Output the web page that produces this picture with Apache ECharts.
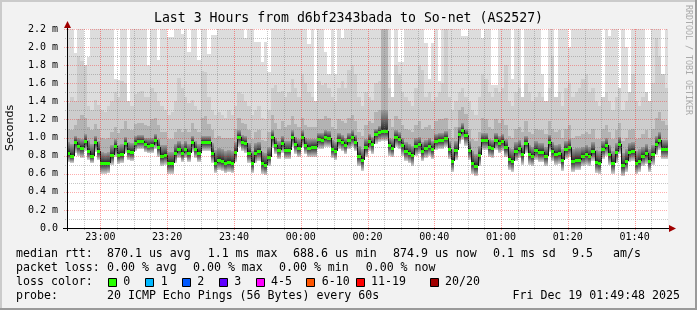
<!DOCTYPE html>
<html>
<head>
<meta charset="utf-8">
<script src="https://cdn.jsdelivr.net/npm/echarts@6/dist/echarts.min.js"></script>
<style>
html,body{margin:0;padding:0;background:#f2f2f2;}
#chart{width:697px;height:310px;}
</style>
</head>
<body>
<div id="chart"></div>
<script>
// ---- x axis: minutes since 22:50, one sample per minute ----
const xTickMinutes = [10, 30, 50, 70, 90, 110, 130, 150, 170];
const xTickLabels  = ['23:00','23:20','23:40','00:00','00:20','00:40','01:00','01:20','01:40'];
const yTickValues  = [0, 0.2, 0.4, 0.6, 0.8, 1.0, 1.2, 1.4, 1.6, 1.8, 2.0, 2.2];
const yTickLabels  = ['0.0','0.2 m','0.4 m','0.6 m','0.8 m','1.0 m','1.2 m','1.4 m','1.6 m','1.8 m','2.0 m','2.2 m'];

// ---- median RTT (ms) per minute ----
const median = [
 0.83,0.80,0.95,0.91,0.88,0.965,0.85,0.80,0.95,0.85,
 0.72,0.715,0.72,0.81,0.91,0.81,0.82,0.94,0.85,0.84,
 0.945,0.965,0.965,0.93,0.91,0.92,0.975,0.89,0.80,0.81,
 0.715,0.715,0.83,0.87,0.83,0.87,0.83,0.95,0.87,0.83,
 0.95,0.95,0.95,0.83,0.72,0.75,0.744,0.718,0.733,0.718,
 0.84,1.01,0.954,0.94,0.829,0.722,0.833,0.851,0.715,0.696,
 0.785,1.01,0.921,0.866,0.94,0.866,0.866,1.01,0.932,0.888,
 1.01,0.921,0.888,0.896,0.896,0.984,0.976,1.01,0.999,0.873,
 0.851,0.976,0.954,0.921,0.976,1.01,0.954,0.796,0.748,0.89,
 0.962,0.932,1.039,1.061,1.072,1.072,0.918,0.888,1.006,0.984,
 0.918,0.851,0.829,0.807,0.91,0.932,0.851,0.884,0.91,0.873,
 0.962,0.976,0.976,0.999,0.873,0.744,0.866,1.043,1.083,1.028,
 0.866,0.722,0.689,0.807,0.976,0.976,0.896,0.884,0.976,0.94,
 0.962,0.896,0.763,0.744,0.851,0.884,0.818,0.94,0.818,0.796,
 0.862,0.84,0.84,0.796,0.954,0.851,0.818,0.829,0.752,0.873,
 0.896,0.744,0.756,0.756,0.796,0.818,0.796,0.851,0.733,0.722,
 0.873,0.918,0.818,0.722,0.84,0.932,0.696,0.744,0.84,0.851,
 0.722,0.744,0.796,0.829,0.744,0.818,0.925,0.976,0.873,0.875
];
// ---- lowest ping (ms) per minute ----
const minPing = [
 0.73,0.72,0.83,0.80,0.77,0.85,0.75,0.72,0.84,0.75,
 0.60,0.60,0.61,0.70,0.79,0.71,0.72,0.83,0.75,0.74,
 0.85,0.87,0.87,0.84,0.83,0.83,0.87,0.78,0.68,0.70,
 0.60,0.60,0.72,0.77,0.73,0.77,0.73,0.84,0.77,0.73,
 0.85,0.85,0.85,0.72,0.61,0.64,0.63,0.61,0.62,0.61,
 0.73,0.89,0.85,0.83,0.72,0.61,0.72,0.74,0.60,0.59,
 0.68,0.88,0.82,0.76,0.83,0.76,0.76,0.89,0.82,0.78,
 0.89,0.82,0.78,0.79,0.79,0.87,0.87,0.90,0.89,0.77,
 0.75,0.87,0.85,0.82,0.87,0.90,0.85,0.68,0.63,0.78,
 0.85,0.82,0.93,0.95,0.96,0.96,0.80,0.78,0.89,0.87,
 0.80,0.74,0.72,0.69,0.80,0.82,0.74,0.77,0.80,0.76,
 0.86,0.87,0.87,0.89,0.76,0.62,0.75,0.93,0.97,0.91,
 0.75,0.60,0.57,0.69,0.86,0.86,0.78,0.77,0.86,0.83,
 0.85,0.78,0.64,0.62,0.74,0.77,0.70,0.83,0.70,0.68,
 0.75,0.73,0.73,0.68,0.84,0.74,0.70,0.71,0.63,0.76,
 0.78,0.62,0.64,0.64,0.68,0.70,0.68,0.74,0.61,0.60,
 0.76,0.80,0.70,0.60,0.72,0.82,0.58,0.62,0.73,0.74,
 0.60,0.62,0.68,0.71,0.62,0.70,0.81,0.86,0.76,0.76
];
// ---- top of the dark smoke band (ms) ----
const darkTop = [
 0.95,0.93,1.02,1.00,0.98,1.04,0.97,0.93,1.02,0.96,
 0.84,0.83,0.84,0.92,0.98,0.92,0.93,1.01,0.95,0.94,
 1.02,1.03,1.03,1.00,0.99,1.00,1.04,0.98,0.92,0.92,
 0.84,0.84,0.93,0.96,0.93,0.96,0.93,1.02,0.96,0.93,
 1.02,1.02,1.02,0.94,0.86,0.88,0.87,0.85,0.86,0.85,
 0.95,1.08,1.03,1.02,0.94,0.85,0.94,0.95,0.84,0.83,
 0.90,1.08,1.00,0.96,1.02,0.96,0.96,1.08,1.01,0.98,
 1.08,1.00,0.98,0.98,0.98,1.05,1.05,1.08,1.07,0.97,
 0.95,1.05,1.03,1.00,1.05,1.08,1.03,0.91,0.87,0.98,
 1.04,1.01,1.10,1.13,1.30,1.30,1.00,0.98,1.08,1.06,
 1.00,0.95,0.93,0.91,0.99,1.01,0.95,0.97,0.99,0.96,
 1.04,1.05,1.05,1.07,0.96,0.87,0.96,1.12,1.16,1.10,
 0.96,0.85,0.82,0.91,1.05,1.05,0.98,0.97,1.05,1.02,
 1.04,0.98,0.88,0.87,0.95,0.97,0.92,1.02,0.92,0.90,
 0.96,0.94,0.94,0.90,1.03,0.95,0.92,0.93,0.87,0.96,
 0.98,0.87,0.88,0.88,0.90,0.92,0.90,0.95,0.86,0.85,
 0.96,1.00,0.92,0.85,0.94,1.01,0.83,0.87,0.94,0.95,
 0.85,0.87,0.90,0.93,0.87,0.92,1.02,1.06,0.97,0.97
];
// ---- top of the mid-gray smoke band (ms) ----
const midTop = [
 1.10,1.08,1.14,1.20,1.25,1.22,1.12,1.08,1.15,1.10,
 1.00,0.98,1.00,1.06,1.12,1.05,1.10,1.18,1.10,1.08,
 1.15,1.16,1.16,1.14,1.13,1.20,1.22,1.14,1.06,1.06,
 0.98,0.98,1.06,1.10,1.06,1.10,1.06,1.16,1.10,1.06,
 1.22,1.24,1.15,1.08,1.00,1.02,1.00,0.99,1.00,0.99,
 1.10,1.22,1.16,1.15,1.08,0.98,1.06,1.08,0.97,0.96,
 1.06,1.25,1.16,1.10,1.18,1.12,1.14,1.24,1.15,1.12,
 1.22,1.14,1.12,1.12,1.12,1.20,1.20,1.24,1.22,1.12,
 1.10,1.20,1.18,1.16,1.22,1.25,1.18,1.06,1.02,1.14,
 1.18,1.16,1.28,1.30,2.30,2.30,1.20,1.12,1.24,1.20,
 1.14,1.10,1.08,1.06,1.14,1.18,1.10,1.12,1.14,1.10,
 1.18,1.20,1.20,1.22,1.10,1.00,1.12,1.30,1.34,1.26,
 1.10,0.98,0.96,1.06,1.22,1.20,1.12,1.10,1.20,1.16,
 1.20,1.14,1.02,1.00,1.10,1.12,1.06,1.18,1.06,1.04,
 1.10,1.08,1.08,1.04,1.18,1.10,1.06,1.08,1.00,1.10,
 1.14,1.00,1.02,1.02,1.04,1.06,1.04,1.10,0.98,0.98,
 1.10,1.14,1.06,0.98,1.08,1.16,0.96,1.00,1.08,1.10,
 0.98,1.00,1.04,1.08,1.00,1.10,1.22,1.28,1.18,1.14
];
// ---- top of the light-gray smoke band (ms) ----
const lightTop = [
 1.38,1.45,1.40,1.90,1.85,1.80,1.35,1.30,1.42,1.36,
 1.30,1.28,1.35,1.40,1.50,1.45,1.62,1.60,1.40,1.35,
 1.48,1.50,1.52,1.45,1.45,1.55,1.50,1.40,1.35,1.30,
 1.25,1.28,1.40,1.66,1.55,1.45,1.38,1.42,1.35,1.30,
 1.74,1.72,1.45,1.30,1.25,1.28,1.25,1.22,1.30,1.25,
 1.35,1.50,1.48,1.40,1.35,1.25,1.30,1.35,1.22,1.20,
 1.30,1.55,1.58,1.50,1.52,1.45,1.50,1.65,1.55,1.45,
 1.70,1.60,1.50,1.45,1.40,1.62,1.58,1.60,1.55,1.45,
 1.40,1.55,1.62,1.55,1.75,1.80,1.70,1.45,1.35,1.50,
 1.45,1.42,1.60,1.62,2.30,2.30,1.55,1.45,1.80,1.70,
 1.50,1.45,1.40,1.35,1.55,1.80,1.75,1.45,1.50,1.40,
 1.45,1.50,1.60,2.30,1.45,1.30,1.40,1.50,1.55,1.45,
 1.40,1.30,1.25,1.45,1.70,1.65,1.50,1.45,1.55,1.50,
 1.55,1.80,1.40,1.35,1.50,1.55,1.45,1.60,1.50,1.40,
 1.45,1.50,1.45,1.40,1.55,1.90,1.45,1.50,1.35,1.55,
 1.60,1.45,1.50,1.55,1.65,1.70,1.50,1.55,1.40,1.35,
 1.45,1.50,1.40,1.30,1.45,1.55,1.30,1.40,1.50,1.70,
 1.40,1.35,1.45,1.50,1.40,1.60,2.10,1.90,1.70,1.55
];
// ---- highest ping (ms) per minute (values above 2.2 are clipped) ----
const maxPing = [
 2.3,2.3,1.93,2.3,2.3,1.71,1.89,2.3,2.3,2.3,
 2.3,2.3,2.3,2.3,1.65,1.64,2.3,2.3,1.22,2.3,
 2.3,2.3,2.3,2.3,1.80,2.3,2.3,1.86,2.3,2.3,
 2.11,2.11,2.3,2.3,2.14,2.3,1.95,2.3,2.3,1.86,
 2.3,2.3,1.92,2.13,2.13,2.3,2.3,2.3,2.3,2.3,
 2.3,2.3,2.3,2.10,2.3,2.3,2.06,2.06,1.84,2.06,
 1.73,2.3,2.3,2.3,2.3,2.3,2.3,2.3,2.3,2.3,
 2.3,2.3,2.03,2.3,1.32,2.3,2.3,1.95,1.70,2.3,
 1.70,2.3,2.10,2.3,2.3,2.3,2.3,2.3,2.3,2.3,
 2.3,2.3,2.3,2.3,2.3,2.3,2.3,1.32,2.3,1.84,
 1.84,2.3,2.3,2.3,2.3,2.3,2.3,2.05,1.65,2.05,
 2.3,1.62,2.3,2.3,2.3,2.3,2.3,2.3,2.12,2.12,
 2.3,2.3,2.3,2.3,2.10,2.3,2.3,1.58,1.58,2.3,
 2.3,2.3,2.3,1.65,2.3,2.3,1.44,2.3,2.3,2.3,
 2.3,2.3,1.70,1.32,2.3,2.3,1.22,2.3,2.3,2.3,
 2.00,2.3,2.3,2.3,2.3,2.3,2.3,2.3,2.3,2.3,
 1.29,2.3,2.12,2.3,2.3,1.51,2.3,2.00,1.30,2.3,
 2.3,2.3,2.3,1.30,1.30,2.3,2.3,2.3,1.60,2.3
];

const lossColors = ['#26ff00','#00b8ff','#0059ff','#5e00ff','#ff00ff','#ff5500','#ff0000','#a10000'];
const lossLabels = ['0','1','2','3','4-5','6-10','11-19','20/20'];

const MONO = '"DejaVu Sans Mono", monospace';
const RED_GRID = 'rgba(255,0,0,0.32)';
const GRAY_GRID = 'rgba(120,120,120,0.42)';

const data = median.map((m, i) => [i, m, minPing[i], darkTop[i], midTop[i], lightTop[i], maxPing[i], i ? median[i - 1] : m]);

const chart = echarts.init(document.getElementById('chart'), null, {renderer: 'canvas'});

function renderItem(params, api) {
  const i = api.value(0);
  const x0 = Math.round(api.coord([i, 0])[0]);
  const x1 = Math.round(api.coord([i + 1, 0])[0]);
  const w = x1 - x0;
  const yOf = v => Math.round(api.coord([i, v])[1]);
  const med = api.value(1);
  const yMed = yOf(med);
  const kids = [];
  function band(top, fill) {
    const yt = yOf(top);
    kids.push({type: 'rect', shape: {x: x0, y: yt, width: w, height: yMed - yt}, style: {fill: fill}});
  }
  band(api.value(6), '#dddddd');
  band(api.value(5), '#cdcdcd');
  band(api.value(4), '#b3b3b3');
  band(api.value(3), new echarts.graphic.LinearGradient(0, 0, 0, 1, [
    {offset: 0, color: '#9c9c9c'}, {offset: 0.6, color: '#5a5a5a'}, {offset: 1, color: '#222222'}]));
  const yLo = yOf(api.value(2));
  kids.push({type: 'rect', shape: {x: x0, y: yMed, width: w, height: yLo - yMed},
    style: {fill: new echarts.graphic.LinearGradient(0, 0, 0, 1, [
      {offset: 0, color: '#222222'}, {offset: 0.5, color: '#777777'}, {offset: 1, color: '#d4d4d4'}])}});
  const yPrev = yOf(api.value(7));
  if (yPrev !== yMed) {
    kids.push({type: 'rect', shape: {x: x0, y: Math.min(yPrev, yMed), width: 1, height: Math.abs(yPrev - yMed)},
      style: {fill: '#151515'}});
  }
  kids.push({type: 'rect', shape: {x: x0, y: yMed - 1, width: w, height: 3}, style: {fill: lossColors[0]}});
  return {type: 'group', children: kids};
}

const gx = 67, gy = 29, gw = 601, gh = 199;

const texts = [];
function txt(x, y, s, opt) {
  texts.push({type: 'text', x: x, y: y, silent: true,
    style: Object.assign({text: s, fill: '#000', font: '11.6px ' + MONO, textVerticalAlign: 'middle'}, opt || {})});
}
txt(348.5, 19, 'Last 3 Hours from d6bf2343bada to So-net (AS2527)', {font: '13.2px ' + MONO, textAlign: 'center'});
// line 1
txt(16, 254, 'median rtt:');
txt(107, 254, '870.1 us avg');
txt(207.7, 254, '1.1 ms max');
txt(293, 254, '688.6 us min');
txt(393, 254, '874.9 us now');
txt(493, 254, '0.1 ms sd');
txt(572, 254, '9.5');
txt(613, 254, 'am/s');
// line 2
txt(16, 268, 'packet loss:');
txt(107, 268, '0.00 % avg');
txt(193, 268, '0.00 % max');
txt(279, 268, '0.00 % min');
txt(365.7, 268, '0.00 % now');
// line 3
txt(16, 282, 'loss color:');
const boxX = [108.5, 145.5, 182.5, 219.5, 256.5, 306.5, 356.5, 430.5];
const labX = [123.3, 160.7, 197.3, 234.3, 271, 321.7, 371, 445];
const boxes = [];
lossLabels.forEach((l, k) => {
  boxes.push({type: 'rect', silent: true, shape: {x: boxX[k], y: 278.5, width: 8, height: 8},
    style: {fill: lossColors[k], stroke: '#000', lineWidth: 1}});
  txt(labX[k], 282, l);
});
// line 4
txt(16, 296, 'probe:');
txt(107, 296, '20 ICMP Echo Pings (56 Bytes) every 60s');
txt(680, 296, 'Fri Dec 19 01:49:48 2025', {textAlign: 'right'});

const deco = [
  {type: 'rect', silent: true, shape: {x: 0, y: 0, width: 697, height: 2}, style: {fill: '#cbcbcb'}},
  {type: 'rect', silent: true, shape: {x: 0, y: 0, width: 2, height: 310}, style: {fill: '#cbcbcb'}},
  {type: 'rect', silent: true, shape: {x: 695, y: 0, width: 2, height: 310}, style: {fill: '#9a9a9a'}},
  {type: 'rect', silent: true, shape: {x: 0, y: 308, width: 697, height: 2}, style: {fill: '#9a9a9a'}},
  // axis lines
  {type: 'line', silent: true, z: 20, shape: {x1: 67.5, y1: 231, x2: 67.5, y2: 25}, style: {stroke: '#000', lineWidth: 1}},
  {type: 'line', silent: true, z: 20, shape: {x1: 63, y1: 228.5, x2: 671, y2: 228.5}, style: {stroke: '#000', lineWidth: 1}},
  {type: 'polygon', silent: true, z: 20, shape: {points: [[64, 28], [71, 28], [67.5, 21]]}, style: {fill: '#a00000'}},
  {type: 'polygon', silent: true, z: 20, shape: {points: [[669, 225], [669, 232], [676, 228.5]]}, style: {fill: '#a00000'}},
  {type: 'text', silent: true, x: 10, y: 128, rotation: Math.PI / 2,
    style: {text: 'Seconds', font: '11px "DejaVu Sans", sans-serif', fill: '#000', textAlign: 'center', textVerticalAlign: 'middle'}},
  {type: 'text', silent: true, x: 688, y: 5, rotation: -Math.PI / 2,
    style: {text: 'RRDTOOL / TOBI OETIKER', font: '8.3px ' + MONO, fill: '#aaaaaa', textAlign: 'left', textVerticalAlign: 'middle'}}
];

const baseGraphic = deco.concat(boxes, texts);

const option = {
  backgroundColor: '#f2f2f2',
  animation: false,
  grid: {left: gx, top: gy, width: gw, height: gh, show: true, backgroundColor: '#ffffff', borderWidth: 0},
  xAxis: {
    type: 'value', min: 0, max: 180, interval: 5,
    axisLine: {show: false},
    axisTick: {show: false},
    splitLine: {show: false},
    axisLabel: {
      margin: 4, color: '#000', fontFamily: MONO, fontSize: 10,
      formatter: v => { const k = xTickMinutes.indexOf(Math.round(v)); return k >= 0 ? xTickLabels[k] : ''; }
    }
  },
  yAxis: {
    type: 'value', min: 0, max: 2.2, interval: 0.1,
    axisLine: {show: false},
    axisTick: {show: false},
    splitLine: {show: false},
    axisLabel: {
      margin: 9, color: '#000', fontFamily: MONO, fontSize: 10,
      formatter: v => { const n = Math.round(v * 10); return n % 2 ? '' : yTickLabels[n / 2]; }
    }
  },
  series: [{
    type: 'custom', z: 1, clip: true, renderItem: renderItem,
    encode: {x: 0, y: 1}, data: data
  }],
  graphic: baseGraphic
};
chart.setOption(option);

// grid lines drawn over the smoke (as rrdtool does), positioned through the chart's own scales
const gridLines = [];
const topY = chart.convertToPixel({gridIndex: 0}, [0, 2.2])[1];
const botY = chart.convertToPixel({gridIndex: 0}, [0, 0])[1];
const leftX = chart.convertToPixel({gridIndex: 0}, [0, 0])[0];
const rightX = chart.convertToPixel({gridIndex: 0}, [180, 0])[0];
for (let m = 5; m < 180; m += 5) {
  const px = Math.round(chart.convertToPixel({gridIndex: 0}, [m, 0])[0]) + 0.5;
  const major = xTickMinutes.indexOf(m) >= 0;
  gridLines.push({type: 'line', silent: true, z: 10,
    shape: {x1: px, y1: topY, x2: px, y2: botY + (major ? 3 : 2)},
    style: {stroke: major ? 'rgba(255,0,0,0.4)' : GRAY_GRID, lineWidth: 1, lineDash: [1, 1]}});
}
for (let n = 1; n <= 22; n++) {
  const py = Math.round(chart.convertToPixel({gridIndex: 0}, [0, n / 10])[1]) + 0.5;
  const major = n % 2 === 0;
  gridLines.push({type: 'line', silent: true, z: 10,
    shape: {x1: leftX - (major ? 3 : 2), y1: py, x2: rightX, y2: py},
    style: {stroke: major ? RED_GRID : GRAY_GRID, lineWidth: 1, lineDash: [1, 1]}});
}
chart.setOption({graphic: baseGraphic.concat(gridLines)});
</script>
</body>
</html>
